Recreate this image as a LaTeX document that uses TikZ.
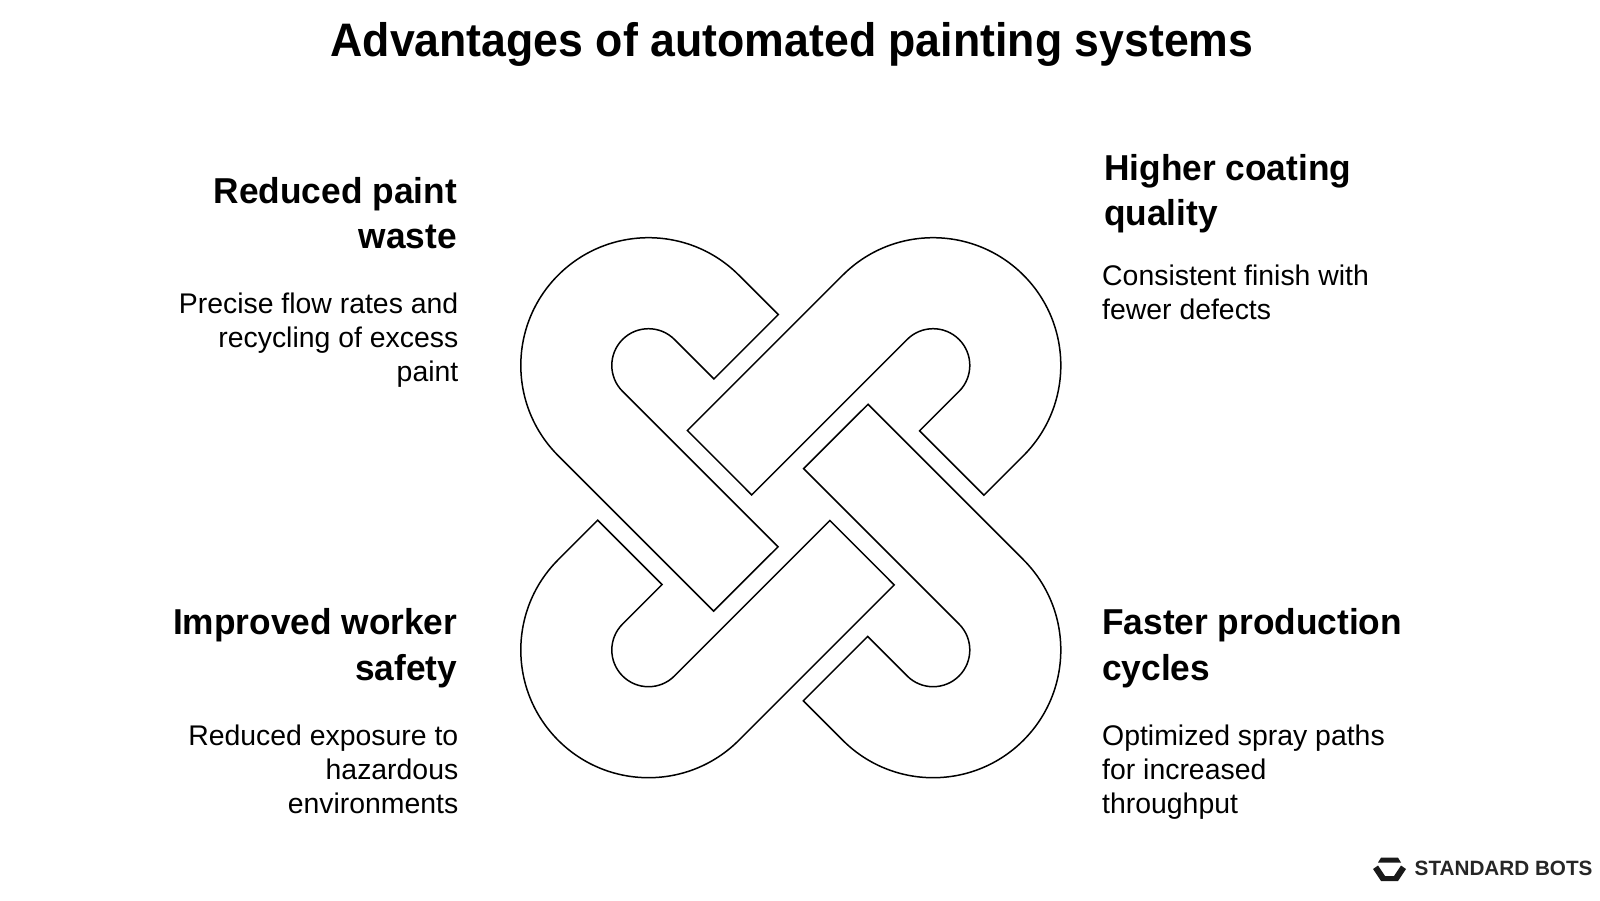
\documentclass[tikz,border=0pt]{standalone}
\usepackage{fontspec}
\setmainfont{Liberation Sans}
\newfontfamily\titlefont[FakeStretch=0.95]{Liberation Sans Bold}
\newfontfamily\headfont[FakeStretch=0.98]{Liberation Sans Bold}
\newfontfamily\bodyfont{Liberation Sans}
\newfontfamily\logofont{Liberation Sans Bold}
\tikzset{
  titletext/.style={inner sep=0pt,anchor=base,font=\titlefont\fontsize{47}{47}\selectfont},
  headtext/.style={inner sep=0pt,font=\headfont\fontsize{36}{45.5}\selectfont},
  bodytext/.style={inner sep=0pt,font=\bodyfont\fontsize{28.4}{34}\selectfont},
  logotext/.style={inner sep=0pt,anchor=base west,text=black!85,font=\logofont\fontsize{20.7}{21}\selectfont},
  linkline/.style={draw=black,line width=1.5pt,line join=miter,fill=white},
  logoshape/.style={fill=black!90,draw=none}
}
\newcommand{\linkpath}{(-12.5,193.1) -- (-52,232.6) arc[start angle=45,end angle=225,radius=127.7]
  -- (-77.2,-103.4) -- (-12.8,-39.1) -- (-168.25,116.35) arc[start angle=225,end angle=45,radius=36.7]
  -- (-76.85,128.75) -- cycle}
\begin{document}
\begin{tikzpicture}[x=1pt,y=-1pt]
\useasboundingbox (0,0) rectangle (1600,900);
\fill[white] (0,0) rectangle (1600,900);
\node[titletext] (title) at (792,56.5) {Advantages of automated painting systems};
\foreach \a in {0,-90,-180,-270}{
  \begin{scope}[shift={(790.8,507.7)},rotate=\a,x=1pt,y=1pt]
    \path[linkline] \linkpath;
  \end{scope}
}
\node[headtext,align=right,anchor=north east] (h1) at (457,177) {Reduced paint\\waste};
\node[bodytext,align=right,anchor=north east] (b1) at (458.5,293) {Precise flow rates and\\recycling of excess\\paint};
\node[headtext,align=left,anchor=north west] (h2) at (1104,154) {Higher coating\\quality};
\node[bodytext,align=left,anchor=north west] (b2) at (1102,265) {Consistent finish with\\fewer defects};
\node[headtext,align=right,anchor=north east] (h3) at (457.5,608.5) {Improved worker\\safety};
\node[bodytext,align=right,anchor=north east] (b3) at (458.5,725) {Reduced exposure to\\hazardous\\environments};
\node[headtext,align=left,anchor=north west] (h4) at (1102,608.5) {Faster production\\cycles};
\node[bodytext,align=left,anchor=north west] (b4) at (1102,725) {Optimized spray paths\\for increased\\throughput};
\fill[logoshape] (1381,857.7) -- (1398,857.7) -- (1401,862.5) -- (1378,862.5) -- cycle;
\fill[logoshape] (1373,869) -- (1378,865.5) -- (1385,876) -- (1394,876) -- (1401,865.5) -- (1406,869) -- (1398,881) -- (1381,881) -- cycle;
\node[logotext] (logo) at (1414.5,875.7) {STANDARD BOTS};
\end{tikzpicture}
\end{document}
